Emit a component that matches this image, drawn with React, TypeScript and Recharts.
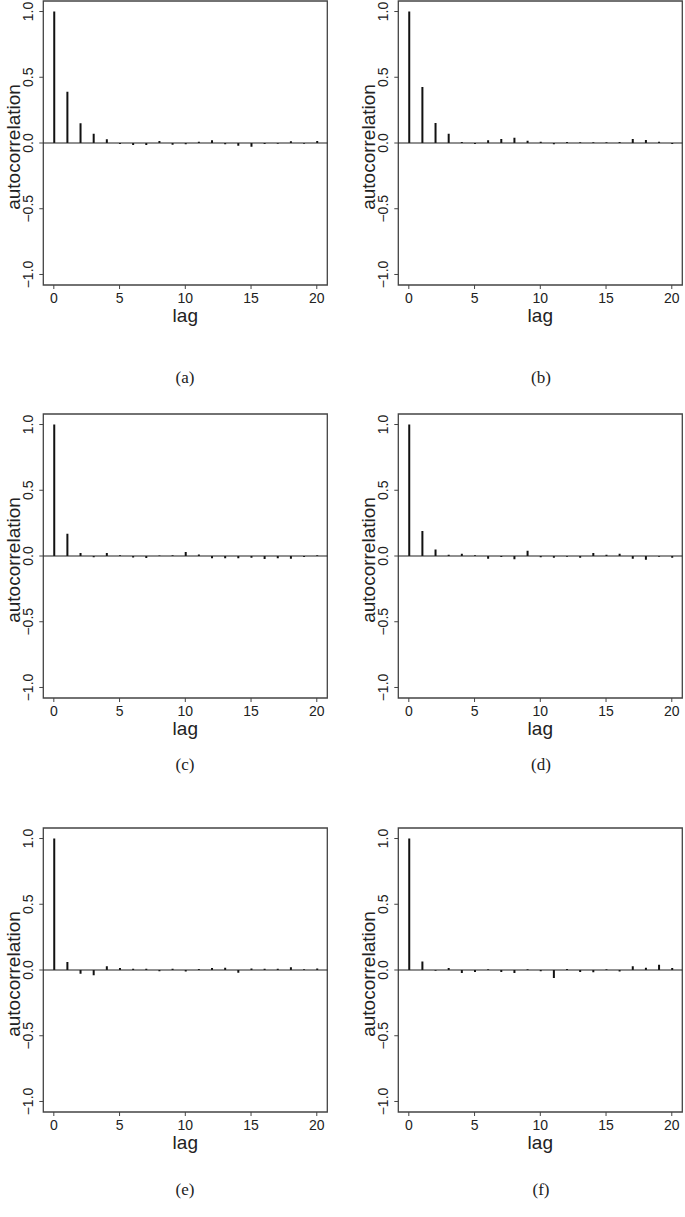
import React from "react";
import { BarChart, Bar, XAxis, YAxis, ReferenceLine, ReferenceArea } from "recharts";

const lags = [0, 1, 2, 3, 4, 5, 6, 7, 8, 9, 10, 11, 12, 13, 14, 15, 16, 17, 18, 19, 20];

const acfA = [1.0, 0.39, 0.15, 0.07, 0.028, -0.008, -0.015, -0.015, 0.015, -0.013, -0.01, 0.01, 0.02, -0.01, -0.02, -0.028, -0.008, -0.005, 0.013, -0.005, 0.015];
const acfB = [1.0, 0.425, 0.152, 0.07, 0.008, -0.008, 0.02, 0.03, 0.04, 0.018, 0.01, -0.01, 0.008, 0.005, 0.005, 0.005, 0.008, 0.03, 0.022, 0.01, -0.008];
const acfC = [1.0, 0.17, 0.022, -0.01, 0.023, 0.005, -0.012, -0.015, 0.003, 0.005, 0.03, 0.012, -0.018, -0.018, -0.018, -0.013, -0.022, -0.018, -0.02, -0.008, 0.005];
const acfD = [1.0, 0.19, 0.05, 0.01, 0.018, 0.005, -0.02, -0.008, -0.025, 0.04, -0.01, -0.013, -0.005, -0.013, 0.022, 0.01, 0.018, -0.02, -0.028, -0.006, -0.013];
const acfE = [1.0, 0.06, -0.028, -0.04, 0.028, 0.015, 0.01, 0.01, -0.01, 0.01, -0.012, 0.008, 0.015, 0.018, -0.02, 0.012, 0.01, 0.01, 0.02, 0.005, 0.012];
const acfF = [1.0, 0.065, -0.006, 0.015, -0.022, -0.015, 0.005, -0.015, -0.022, 0.005, -0.01, -0.06, 0.008, -0.015, -0.018, 0.005, -0.012, 0.028, 0.018, 0.04, 0.015];

const xTicks = [0, 5, 10, 15, 20];
const yTicks = [-1, -0.5, 0, 0.5, 1];
const captions = ["(a)", "(b)", "(c)", "(d)", "(e)", "(f)"];

const FONT = "'Liberation Sans', Arial, Helvetica, sans-serif";
const PLOT = 284;
const AXIS_W = 43.3;
const TOP_M = 2;

const fmtY = (v: number) => (v < 0 ? "\u2212" + Math.abs(v).toFixed(1) : v.toFixed(1));

function YTick(props: any) {
  const { y, payload } = props;
  const x = AXIS_W - 10.5;
  return (
    <text
      x={x}
      y={y}
      transform={`rotate(-90, ${x}, ${y})`}
      textAnchor="middle"
      fontFamily={FONT}
      fontSize={14}
      fill="#222"
    >
      {fmtY(payload.value)}
    </text>
  );
}

function XTick(props: any) {
  const { x, payload } = props;
  return (
    <text
      x={x}
      y={TOP_M + PLOT + 17.5}
      textAnchor="middle"
      fontFamily={FONT}
      fontSize={14}
      fill="#222"
    >
      {payload.value}
    </text>
  );
}

type PanelProps = { values: number[]; left: number; top: number };

function AcfPanel({ values, left, top }: PanelProps) {
  const data = lags.map((lag, i) => ({ lag, acf: values[i] }));
  return (
    <div style={{ position: "absolute", left, top: top - TOP_M }}>
      <BarChart
        width={330}
        height={330}
        data={data}
        margin={{ top: TOP_M, right: 2.7, bottom: 0, left: 0 }}
      >
        <XAxis
          dataKey="lag"
          type="number"
          domain={[-0.8, 20.8]}
          ticks={xTicks}
          interval={0}
          allowDataOverflow
          axisLine={false}
          tickLine={{ stroke: "#444" }}
          tickSize={4}
          height={44}
          tick={<XTick />}
          label={{
            content: () => (
              <text
                x={AXIS_W + PLOT / 2}
                y={TOP_M + PLOT + 37}
                textAnchor="middle"
                fontFamily={FONT}
                fontSize={19}
                fill="#222"
              >
                lag
              </text>
            ),
          }}
        />
        <YAxis
          type="number"
          domain={[-1.08, 1.08]}
          ticks={yTicks}
          interval={0}
          allowDataOverflow
          axisLine={false}
          tickLine={{ stroke: "#444" }}
          tickSize={4}
          width={AXIS_W}
          tick={<YTick />}
          label={{
            content: () => {
              const cx = 19.5;
              const cy = TOP_M + PLOT / 2 + 4;
              return (
                <text
                  x={cx}
                  y={cy}
                  transform={`rotate(-90, ${cx}, ${cy})`}
                  textAnchor="middle"
                  fontFamily={FONT}
                  fontSize={19}
                  fill="#222"
                >
                  autocorrelation
                </text>
              );
            },
          }}
        />
        <ReferenceArea
          x1={-0.8}
          x2={20.8}
          y1={-1.08}
          y2={1.08}
          fill="none"
          stroke="#444"
          strokeWidth={1.3}
          ifOverflow="visible"
        />
        <ReferenceLine y={0} stroke="#222" strokeWidth={1.2} />
        <Bar dataKey="acf" fill="#111" barSize={2} isAnimationActive={false} />
      </BarChart>
    </div>
  );
}

const panelSeries = [acfA, acfB, acfC, acfD, acfE, acfF];
const colLeft = [0, 355];
const rowTop = [0.5, 414, 828];
const captionX = [185, 541];
const captionY = [378, 765, 1190];

export default function App() {
  return (
    <div
      style={{
        position: "absolute",
        left: 0,
        top: 0,
        width: 685,
        height: 1217,
        background: "#fff",
        overflow: "hidden",
      }}
    >
      {panelSeries.map((vals, i) => (
        <AcfPanel
          key={i}
          values={vals}
          left={colLeft[i % 2]}
          top={rowTop[Math.floor(i / 2)]}
        />
      ))}
      {captions.map((c, i) => (
        <div
          key={c}
          style={{
            position: "absolute",
            left: captionX[i % 2] - 30,
            top: captionY[Math.floor(i / 2)] - 11,
            width: 60,
            height: 22,
            lineHeight: "22px",
            textAlign: "center",
            fontFamily: "'Liberation Serif', 'DejaVu Serif', serif",
            fontSize: 17,
            color: "#222",
          }}
        >
          {c}
        </div>
      ))}
    </div>
  );
}
